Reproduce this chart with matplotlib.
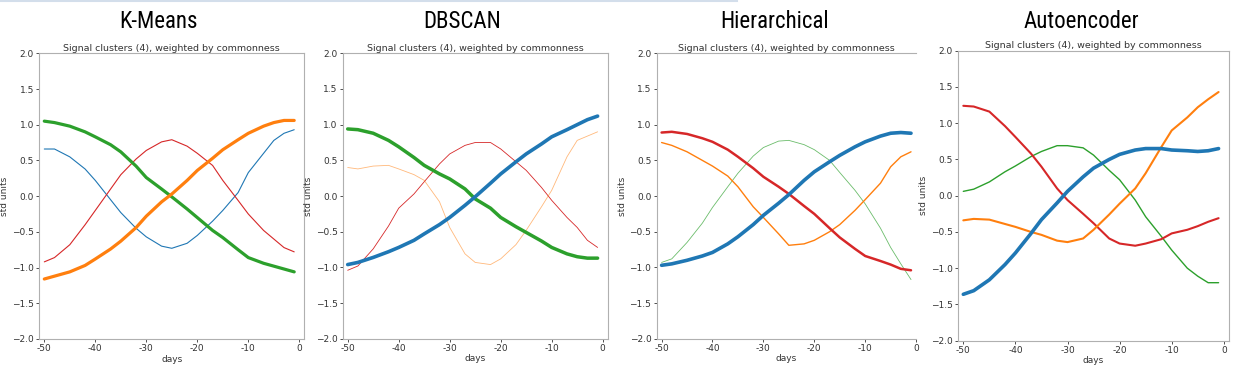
import matplotlib
matplotlib.use("Agg")
import matplotlib.pyplot as plt
from matplotlib.lines import Line2D

W, H = 1239, 367

# ---------------- data ----------------
days = [-50, -48, -45, -42, -40, -37, -35, -32, -30, -27, -25, -22, -20, -17, -15, -12, -10, -7, -5, -3, -1]

method_names = ["K-Means", "DBSCAN", "Hierarchical", "Autoencoder"]
subtitle = "Signal clusters (4), weighted by commonness"

# K-Means
km_green = [1.05, 1.03, 0.98, 0.90, 0.83, 0.72, 0.62, 0.42, 0.26, 0.10, -0.01, -0.18, -0.30, -0.48, -0.58, -0.75, -0.86, -0.94, -0.98, -1.02, -1.06]
km_orange = [-1.16, -1.12, -1.06, -0.97, -0.88, -0.74, -0.63, -0.44, -0.28, -0.08, 0.03, 0.22, 0.36, 0.53, 0.65, 0.79, 0.88, 0.98, 1.03, 1.06, 1.06]
km_blue = [0.66, 0.66, 0.55, 0.38, 0.22, -0.05, -0.23, -0.45, -0.57, -0.70, -0.73, -0.66, -0.55, -0.35, -0.20, 0.05, 0.33, 0.60, 0.78, 0.88, 0.93]
km_red = [-0.92, -0.86, -0.68, -0.40, -0.20, 0.10, 0.30, 0.52, 0.64, 0.76, 0.79, 0.70, 0.60, 0.43, 0.22, -0.06, -0.25, -0.48, -0.60, -0.72, -0.78]

# DBSCAN
db_green = [0.94, 0.93, 0.88, 0.78, 0.69, 0.54, 0.43, 0.31, 0.24, 0.10, -0.04, -0.17, -0.30, -0.43, -0.51, -0.63, -0.72, -0.81, -0.85, -0.87, -0.87]
db_blue = [-0.96, -0.93, -0.86, -0.78, -0.72, -0.62, -0.53, -0.40, -0.30, -0.13, -0.01, 0.18, 0.31, 0.48, 0.59, 0.73, 0.83, 0.93, 1.00, 1.07, 1.12]
db_red = [-1.04, -0.98, -0.74, -0.42, -0.17, 0.03, 0.20, 0.45, 0.59, 0.71, 0.75, 0.75, 0.66, 0.48, 0.36, 0.12, -0.06, -0.30, -0.44, -0.62, -0.72]
db_orange = [0.40, 0.38, 0.42, 0.43, 0.38, 0.30, 0.22, -0.08, -0.44, -0.81, -0.93, -0.96, -0.88, -0.68, -0.48, -0.15, 0.08, 0.55, 0.78, 0.84, 0.90]

# Hierarchical
hi_red = [0.89, 0.90, 0.87, 0.81, 0.76, 0.65, 0.55, 0.39, 0.27, 0.13, 0.03, -0.14, -0.25, -0.45, -0.58, -0.74, -0.84, -0.91, -0.96, -1.02, -1.04]
hi_blue = [-0.97, -0.95, -0.90, -0.84, -0.79, -0.67, -0.57, -0.40, -0.27, -0.10, 0.02, 0.22, 0.34, 0.48, 0.57, 0.69, 0.76, 0.84, 0.88, 0.89, 0.88]
hi_orange = [0.75, 0.71, 0.62, 0.50, 0.42, 0.28, 0.13, -0.15, -0.30, -0.53, -0.69, -0.67, -0.62, -0.50, -0.40, -0.20, -0.05, 0.18, 0.41, 0.55, 0.62]
hi_green = [-0.93, -0.88, -0.65, -0.38, -0.16, 0.13, 0.32, 0.56, 0.68, 0.77, 0.78, 0.72, 0.65, 0.50, 0.33, 0.08, -0.11, -0.45, -0.72, -0.95, -1.17]

# Autoencoder
ae_blue = [-1.36, -1.31, -1.16, -0.95, -0.79, -0.52, -0.33, -0.10, 0.06, 0.26, 0.38, 0.50, 0.57, 0.63, 0.65, 0.65, 0.63, 0.62, 0.61, 0.62, 0.65]
ae_red = [1.24, 1.23, 1.16, 0.96, 0.81, 0.58, 0.40, 0.10, -0.06, -0.25, -0.38, -0.59, -0.66, -0.69, -0.66, -0.60, -0.52, -0.47, -0.42, -0.36, -0.31]
ae_orange = [-0.34, -0.32, -0.33, -0.39, -0.43, -0.50, -0.54, -0.62, -0.64, -0.59, -0.47, -0.26, -0.11, 0.10, 0.31, 0.67, 0.90, 1.08, 1.22, 1.33, 1.43]
ae_green = [0.06, 0.09, 0.19, 0.33, 0.41, 0.54, 0.61, 0.69, 0.69, 0.66, 0.56, 0.35, 0.22, -0.06, -0.29, -0.56, -0.75, -1.00, -1.11, -1.20, -1.20]

x_ticks = [-50, -40, -30, -20, -10, 0]
x_tick_labels = ["-50", "-40", "-30", "-20", "-10", "0"]
y_ticks = [-2.0, -1.5, -1.0, -0.5, 0.0, 0.5, 1.0, 1.5, 2.0]

BLUE, ORANGE, GREEN, RED = "#1f77b4", "#ff7f0e", "#2ca02c", "#d62728"

panels = [
    # (series list: (values, color, lw, alpha)), axes px box (l, t, r, b), xlim, title center x
    ([(km_blue, BLUE, 0.8, 1.0), (km_red, RED, 0.8, 1.0),
      (km_green, GREEN, 2.3, 1.0), (km_orange, ORANGE, 2.3, 1.0)],
     (39.2, 53.3, 304.4, 339.0), (-51, 1), 158.5),
    ([(db_red, RED, 0.6, 1.0), (db_orange, ORANGE, 0.6, 0.55),
      (db_green, GREEN, 2.5, 1.0), (db_blue, BLUE, 2.6, 1.0)],
     (342.6, 53.3, 607.8, 338.8), (-51, 1), 461.7),
    ([(hi_green, GREEN, 0.6, 0.7), (hi_orange, ORANGE, 1.0, 1.0),
      (hi_red, RED, 1.8, 1.0), (hi_blue, BLUE, 2.6, 1.0)],
     (656.5, 53.3, 916.1, 338.8), (-51, -0.8), 775.0),
    ([(ae_green, GREEN, 1.0, 1.0), (ae_red, RED, 1.5, 1.0),
      (ae_orange, ORANGE, 1.5, 1.0), (ae_blue, BLUE, 2.6, 1.0)],
     (958.1, 50.7, 1229.0, 340.7), (-51, 1), 1081.0),
]

plt.rcParams["font.family"] = ["DejaVu Sans"]
fig = plt.figure(figsize=(W / 100, H / 100), dpi=100)
fig.patch.set_facecolor("white")

# faint top border from the original screenshot
fig.add_artist(Line2D([0, 737 / W], [1 - 0.8 / H, 1 - 0.8 / H], color="#d3deeb", lw=1.5,
                      transform=fig.transFigure))

TXT = "#333333"
SPINE = "#b0b0b0"

for (series, (l, t, r, b), xlim, tcx), name in zip(panels, method_names):
    ax = fig.add_axes([l / W, 1 - b / H, (r - l) / W, (b - t) / H])
    for vals, col, lw, al in series:
        ax.plot(days, vals, color=col, lw=lw, alpha=al, solid_capstyle="round")
    ax.set_xlim(*xlim)
    ax.set_ylim(-2, 2)
    ax.set_xticks(x_ticks)
    ax.set_xticklabels(x_tick_labels)
    ax.set_yticks(y_ticks)
    ax.tick_params(labelsize=6.5, colors=TXT, length=2.2, width=0.6, pad=1.5)
    for s in ax.spines.values():
        s.set_color(SPINE)
        s.set_linewidth(0.8)
    if xlim[1] < 0:
        ax.spines["right"].set_visible(False)
    ax.set_xlabel("days", fontsize=6.5, color=TXT, labelpad=1)
    ax.set_ylabel("std units", fontsize=6.5, color=TXT, labelpad=2)
    ax.set_title(subtitle, fontsize=6.8, color=TXT, pad=2)
    fig.text(tcx / W, 1 - 22 / H, name, ha="center", va="center", fontsize=16.5,
             family=["Roboto Condensed", "Roboto", "DejaVu Sans"], color="black")

fig.savefig("out.png", dpi=100, facecolor="white")
